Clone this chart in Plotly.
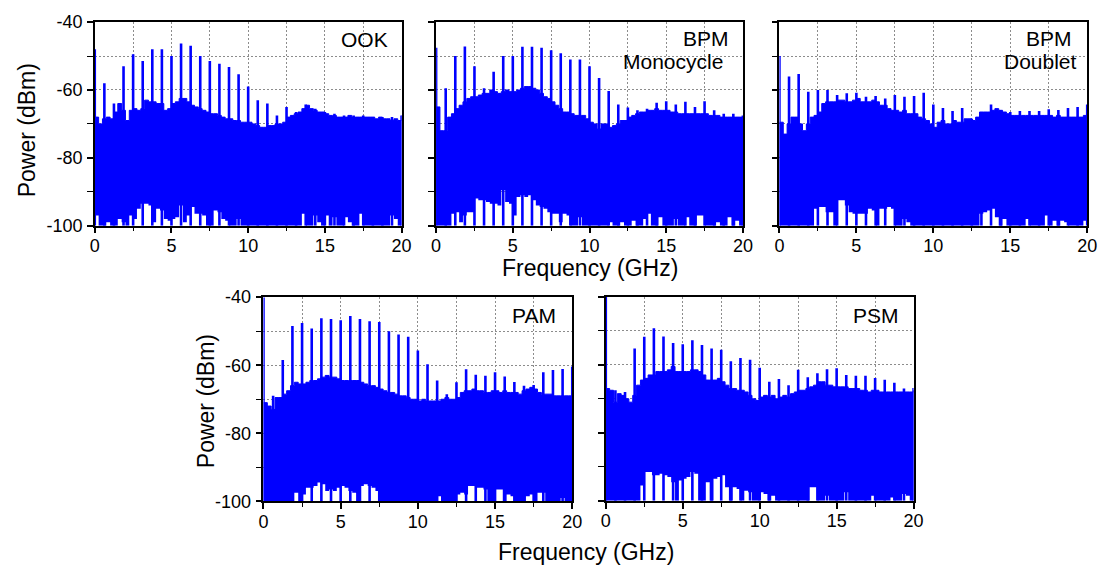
import numpy as np
import plotly.graph_objects as go

# Frequency grid of the noise envelope (GHz) and the comb-line frequencies (GHz)
FREQ = np.linspace(0, 20, 81)
HARM = np.linspace(0, 20, 33)

# Axis ticks
X_TICKS = [0, 5, 10, 15, 20]
X_MINOR = [2.5, 7.5, 12.5, 17.5]
Y_TICKS = [-100, -80, -60, -40]
Y_TICKTEXT = ["-100", "-80", "-60", "-40"]
Y_MINOR = [-90, -70, -50]

# ---------------- OOK ----------------
OOK_TOP = [
    -68, -70, -68.5, -68, -68.5, -66.5, -64, -66, -69, -66,
    -65.5, -66, -65.5, -63, -63.5, -63.5, -64, -64, -66, -65.5,
    -64, -63.5, -62.5, -62.5, -63.5, -64.5, -65, -65.5, -66, -66.5,
    -67, -67, -67.5, -68, -68.5, -68.5, -69, -69, -69.5, -69.5,
    -69.5, -70, -70.5, -71, -71, -70.5, -70.5, -70, -70, -69.5,
    -68, -67.5, -67, -66.5, -65.5, -64.5, -65.5, -66, -66.5, -66.5,
    -67, -67.5, -67.5, -68, -68, -68, -67.5, -68, -68, -68,
    -68, -68, -68, -68.5, -68, -68.5, -68.5, -69, -68.5, -69,
    -67.5]
OOK_LOW = [
    -97, -100, -100, -99, -100, -100, -98, -99, -100, -97,
    -98, -95, -93.5, -93.5, -94, -99, -95, -95.5, -98, -98.5,
    -98, -97.5, -94, -99, -97, -94.5, -96.5, -96.5, -97, -100,
    -100, -95.5, -96, -98, -98.5, -100, -100, -98, -100, -100,
    -100, -100, -100, -100, -100, -100, -100, -100, -100, -100,
    -100, -100, -100, -100, -96.5, -100, -100, -97, -99, -100,
    -97, -100, -97.5, -100, -100, -97.5, -99, -100, -100, -96.5,
    -100, -100, -100, -100, -100, -100, -100, -97, -98, -100,
    -100]
OOK_SPIKE = [
    -48, -58, -64, -53, -49.5, -51.5, -48, -48, -50, -46.3,
    -47, -50, -51.5, -52.3, -53.2, -55.4, -59, -63, -64, -67.5,
    -65, -66.5, -64.3, -65.5, -66.5, -67, -67.5, -67.5, -67.5, -68,
    -68, -68, -67.5]

# ---------------- BPM monocycle ----------------
MONO_TOP = [
    -65, -72, -72, -68, -67, -65.5, -64.5, -63.5, -62.5, -62,
    -62, -61.5, -61, -61, -60, -60.5, -61, -60.5, -60, -60.5,
    -60.5, -60, -59.5, -59, -59, -59.5, -60, -61, -62, -62.5,
    -63.5, -64.5, -65.5, -66.5, -66.5, -67, -67.5, -67.5, -67.5, -68.5,
    -69.5, -70, -71.5, -70, -70, -71, -70.5, -70, -69, -69,
    -68, -67.5, -67, -66.5, -66.5, -66, -66, -65.5, -66, -66,
    -66, -66.5, -66.5, -67, -67, -67, -67, -67, -67, -67,
    -67, -67.5, -67.5, -67.5, -68, -68, -68, -68, -68, -68,
    -68]
MONO_LOW = [
    -100, -100, -100, -100, -96.5, -96, -99, -97, -96, -96,
    -92, -92.5, -92.5, -93, -93.5, -93.5, -94, -89.5, -93, -93.5,
    -97, -91.5, -91, -91.5, -91, -92.5, -94, -94.5, -95, -96,
    -96.5, -96.5, -99, -96.5, -97, -100, -100, -97.5, -100, -100,
    -100, -100, -100, -100, -100, -99, -100, -100, -99, -100,
    -100, -98.5, -100, -100, -98, -96.5, -100, -100, -97.5, -100,
    -100, -100, -98, -100, -100, -97.5, -100, -100, -97, -97,
    -100, -100, -100, -99, -100, -100, -97.5, -100, -98.5, -100,
    -100]
MONO_SPIKE = [
    -47.6, -59.5, -50, -47.2, -53, -59.5, -54.6, -50, -50, -47.3,
    -47.3, -47.6, -48.3, -49.2, -51, -51, -53, -56.5, -60.3, -64.3,
    -65.2, -66, -65.5, -63.8, -63.3, -64.3, -63.5, -65, -63.3, -66,
    -67, -67, -67.5]

# ---------------- BPM doublet ----------------
DOUB_TOP = [
    -69.5, -73, -70, -68, -68, -70, -72, -70, -68, -67.5,
    -66.5, -64, -63.5, -63.5, -63.5, -63, -63, -63.5, -63.5, -63,
    -62.5, -63.5, -63.5, -63.5, -63, -63.5, -64.5, -64.5, -65.5, -66,
    -66, -66.5, -66, -67, -67, -67, -68, -68.5, -69, -70,
    -71, -69.5, -69, -70, -70, -69, -69.5, -69.5, -68.5, -68.5,
    -69, -68, -66.5, -66.5, -66.5, -66, -65.5, -66, -66.5, -67,
    -67.5, -67.5, -67.5, -67.5, -67.5, -67.5, -67.5, -67.5, -67.5, -67.5,
    -67.5, -68, -67.5, -68, -68, -68, -68, -68, -68, -67.5,
    -67]
DOUB_LOW = [
    -100, -100, -100, -100, -100, -100, -100, -100, -100, -95,
    -94.5, -94.5, -96, -96, -100, -92.5, -92.5, -94, -96, -96.5,
    -96.5, -96.5, -96.5, -95, -95.5, -100, -95, -95, -94.5, -95,
    -100, -100, -98, -99, -100, -100, -100, -100, -100, -100,
    -100, -100, -100, -100, -100, -100, -100, -100, -100, -100,
    -100, -100, -96.5, -96, -95.5, -95, -97.5, -100, -98, -100,
    -100, -100, -100, -100, -98, -100, -100, -100, -100, -97,
    -100, -98.5, -100, -98.5, -99, -100, -100, -100, -100, -98.5,
    -100]
DOUB_SPIKE = [
    -50, -56, -55.3, -60.5, -60, -60, -61.5, -61, -60.8, -62,
    -61.8, -62.5, -61.5, -62, -61.8, -60.8, -64.3, -65.3, -66.2, -65.3,
    -68.5, -66.5, -64.3, -66, -66.5, -66.2, -66.2, -66.2, -65.7, -65.9,
    -65.3, -65, -64.3]

# ---------------- PAM ----------------
PAM_TOP = [
    -71, -72, -73, -69.5, -69.5, -68.5, -67.5, -66, -65, -65.5,
    -65.5, -65, -64.5, -64.5, -64, -63.5, -63, -63.5, -63.5, -64,
    -64.5, -64.5, -64.5, -64.5, -64.5, -65, -65.5, -66, -66, -66.5,
    -67, -67.5, -68, -68, -68.5, -69, -69, -69.5, -70, -70,
    -70.5, -70, -70.5, -70.5, -70.5, -70.5, -70, -69.5, -70, -70,
    -69.5, -68, -67.5, -67.5, -67, -67.5, -67.5, -68, -68, -67.5,
    -67.5, -68, -67.5, -68, -68, -68, -68.5, -67.5, -67, -66.5,
    -67, -68, -68.5, -68.5, -68.5, -69, -69, -69, -69, -69,
    -69]
PAM_LOW = [
    -100, -100, -100, -100, -100, -100, -100, -100, -97.5, -100,
    -98, -96, -96, -95.5, -94.5, -95, -97, -96.5, -97, -96,
    -95.5, -96, -97, -97.5, -100, -95.5, -95, -95.5, -96, -97,
    -100, -100, -100, -100, -100, -100, -100, -100, -100, -100,
    -100, -100, -100, -100, -100, -98.5, -100, -100, -100, -100,
    -98, -97.5, -98, -95.5, -95.5, -96, -96, -96.5, -100, -100,
    -96.5, -96.5, -100, -98, -98.5, -100, -100, -100, -98.5, -98,
    -100, -97.5, -97.5, -100, -100, -100, -100, -99, -100, -100,
    -100]
PAM_SPIKE = [
    -40, -69, -58.5, -48.5, -47.6, -49.2, -46.2, -46.4, -46.8, -45.5,
    -46.4, -47.1, -47.3, -50, -51, -51.6, -55.7, -59.7, -64.5, -68.5,
    -65, -61.2, -62.8, -63.1, -62.1, -63.3, -64.9, -66, -65.8, -62.1,
    -61.4, -61.1, -60.4]

# ---------------- PSM ----------------
PSM_TOP = [
    -67, -67.5, -71, -68.5, -69, -70, -71, -69, -66, -64.5,
    -64, -63, -63, -62, -62, -62, -61.5, -60.5, -62, -62,
    -62, -62, -61.5, -61.5, -62, -63, -64.5, -64.5, -64.5, -64,
    -65, -66, -67, -67, -67.5, -67.5, -68, -69, -70, -70.5,
    -69.5, -69, -69.5, -69, -70, -69.5, -69, -69.5, -68.5, -68,
    -67.5, -67.5, -67, -66.5, -66, -65, -65, -66, -66, -66.5,
    -66.5, -66.5, -66.5, -67, -67, -67, -67.5, -67.5, -68, -67.5,
    -67.5, -68, -68, -68, -68, -68, -68, -68, -68, -68,
    -67.5]
PSM_LOW = [
    -100, -100, -100, -100, -100, -100, -100, -100, -100, -95.5,
    -91.5, -91.5, -92.5, -92.5, -92, -92.5, -93, -94.5, -100, -94,
    -93.5, -93, -91.5, -92, -100, -100, -94.5, -100, -93.5, -93,
    -92.5, -96, -100, -96, -96.5, -100, -97, -97.5, -100, -100,
    -97.5, -98, -100, -98.5, -100, -100, -100, -100, -100, -100,
    -100, -100, -100, -96, -96, -100, -100, -98.5, -100, -100,
    -100, -100, -97.5, -100, -100, -100, -100, -100, -100, -98.5,
    -100, -100, -100, -100, -99, -100, -100, -98, -98.5, -100,
    -100]
PSM_SPIKE = [
    -40, -67.5, -68, -55.2, -51.8, -49.3, -51.7, -53.6, -54, -52.8,
    -54.2, -55.2, -55.6, -59, -58, -58.5, -60.9, -65, -64.2, -66,
    -61.5, -63.7, -62.5, -61.3, -61, -63, -63.2, -63.2, -63.9, -64.4,
    -65.3, -67, -66.8]

W, H = 1113, 576
BLUE = "#0000FF"
FONT = "Liberation Sans, Arial, Helvetica, sans-serif"
GRID = "#8c8c8c"

# panel frames in pixels: (left, right, top, bottom), labels as (text, right x, centre y)
PANELS = [
    dict(top=OOK_TOP, low=OOK_LOW, spike=OOK_SPIKE, box=(91, 402, 12.5, 223.5), ylab=True,
         labels=[("OOK", 390, 31)]),
    dict(top=MONO_TOP, low=MONO_LOW, spike=MONO_SPIKE, box=(437, 748, 12.5, 223.5), ylab=False,
         labels=[("BPM", 736, 30), ("Monocycle", 730, 53)]),
    dict(top=DOUB_TOP, low=DOUB_LOW, spike=DOUB_SPIKE, box=(785, 1097, 12.5, 223.5), ylab=False,
         labels=[("BPM", 1084, 30), ("Doublet", 1089, 53)]),
    dict(top=PAM_TOP, low=PAM_LOW, spike=PAM_SPIKE, box=(262, 575, 297.5, 509), ylab=True,
         labels=[("PAM", 561, 316)]),
    dict(top=PSM_TOP, low=PSM_LOW, spike=PSM_SPIKE, box=(609, 921, 297, 508.5), ylab=False,
         labels=[("PSM", 908, 317)]),
]

fig = go.Figure()
annotations = []

for i, p in enumerate(PANELS, start=1):
    assert len(p["top"]) == len(FREQ) and len(p["low"]) == len(FREQ) and len(p["spike"]) == len(HARM)
    xa = "x" if i == 1 else f"x{i}"
    ya = "y" if i == 1 else f"y{i}"
    # noise floor band: lower edge, then upper edge filled down to it
    fig.add_trace(go.Scatter(x=FREQ, y=p["low"], xaxis=xa, yaxis=ya, mode="lines",
                             line=dict(width=0, color=BLUE, shape="hv"),
                             hoverinfo="skip", showlegend=False))
    fig.add_trace(go.Scatter(x=FREQ, y=p["top"], xaxis=xa, yaxis=ya, mode="lines",
                             line=dict(width=1, color=BLUE, shape="hv"),
                             fill="tonexty", fillcolor=BLUE,
                             hoverinfo="skip", showlegend=False))
    # discrete comb lines
    sx, sy = [], []
    for f, v in zip(HARM, p["spike"]):
        sx += [f, f, None]
        sy += [-100, v, None]
    fig.add_trace(go.Scatter(x=sx, y=sy, xaxis=xa, yaxis=ya, mode="lines",
                             line=dict(width=2.6, color=BLUE),
                             hoverinfo="skip", showlegend=False))

    l, r, t, b = p["box"]
    axis_common = dict(
        showline=True, linecolor="black", linewidth=1.5, mirror=True,
        ticks="outside", ticklen=6, tickwidth=1.5, tickcolor="black",
        showgrid=True, gridcolor=GRID, gridwidth=1, griddash="2px,2px",
        zeroline=False, tickfont=dict(family=FONT, size=18, color="black"),
    )
    minor_common = dict(tickmode="array", ticks="outside", tickwidth=1.2, tickcolor="black",
                        showgrid=True, gridcolor=GRID, gridwidth=1, griddash="2px,2px")
    fig.layout[f"xaxis{'' if i == 1 else i}"] = dict(
        axis_common, domain=[l / W, r / W], anchor=ya, range=[0, 20],
        tickmode="array", tickvals=X_TICKS, ticklabelstandoff=-3,
        minor=dict(minor_common, tickvals=X_MINOR, ticklen=4),
    )
    fig.layout[f"yaxis{'' if i == 1 else i}"] = dict(
        axis_common, domain=[1 - b / H, 1 - t / H], anchor=xa, range=[-100, -40],
        tickmode="array", tickvals=Y_TICKS, ticktext=Y_TICKTEXT,
        showticklabels=p["ylab"], ticklabelstandoff=1,
        minor=dict(minor_common, tickvals=Y_MINOR, ticklen=6),
    )
    for text, xr, yc in p["labels"]:
        annotations.append(dict(text=text, x=xr / W, y=1 - yc / H, xref="paper", yref="paper",
                                xanchor="right", yanchor="middle", showarrow=False,
                                font=dict(family=FONT, size=21, color="black")))

# axis titles
for xc, yc in [(593, 267), (589, 561)]:
    annotations.append(dict(text="Frequency (GHz)", x=xc / W, y=1 - yc / H, xref="paper", yref="paper",
                            xanchor="center", yanchor="middle", showarrow=False,
                            font=dict(family=FONT, size=23, color="black")))
for xc, yc in [(22, 125), (204, 405)]:
    annotations.append(dict(text="Power (dBm)", x=xc / W, y=1 - yc / H, xref="paper", yref="paper",
                            xanchor="center", yanchor="middle", showarrow=False, textangle=-90,
                            font=dict(family=FONT, size=23, color="black")))

fig.update_layout(
    width=W, height=H, margin=dict(l=0, r=0, t=0, b=0),
    paper_bgcolor="white", plot_bgcolor="white",
    showlegend=False, annotations=annotations,
)

fig.write_html("out.html")
